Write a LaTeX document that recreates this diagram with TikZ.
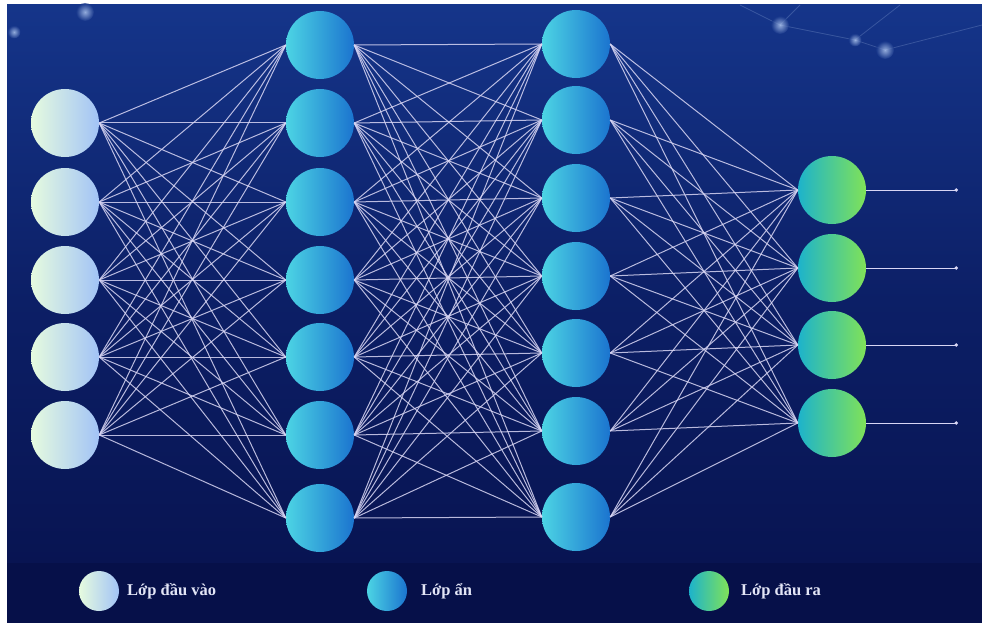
\documentclass[tikz,border=0pt]{standalone}
\usepackage{fontspec}
\setmainfont{Liberation Serif}
\usetikzlibrary{arrows.meta}
\definecolor{bgtop}{HTML}{15358A}
\definecolor{bgmid}{HTML}{0C1F66}
\definecolor{bgbot}{HTML}{081452}
\definecolor{band}{HTML}{061049}
\definecolor{inL}{HTML}{E6FBDF}
\definecolor{inR}{HTML}{A2C3F6}
\definecolor{hidL}{HTML}{4CD4E4}
\definecolor{hidR}{HTML}{1B74CF}
\definecolor{outL}{HTML}{1DB3CB}
\definecolor{outR}{HTML}{80E258}
\definecolor{edge}{HTML}{D8D6F4}
\definecolor{legtext}{HTML}{E2E5F6}
\definecolor{glow}{HTML}{C8DEFF}
\tikzset{
  neuron/.style={circle, minimum size=68pt, inner sep=0pt, draw=none},
  inneuron/.style={neuron, left color=inL, right color=inR},
  hidneuron/.style={neuron, left color=hidL, right color=hidR},
  outneuron/.style={neuron, left color=outL, right color=outR},
  legdot/.style={circle, minimum size=40pt, inner sep=0pt},
  wire/.style={draw=edge, line width=1pt, opacity=0.85},
  outwire/.style={draw=edge, line width=1pt, -{Circle[length=3.5pt]}},
  legtxt/.style={anchor=west, text=legtext, font=\fontsize{16.5}{18}\selectfont\bfseries, inner sep=0pt},
  sparkle/.style={circle, minimum size=18pt, inner sep=0pt, inner color=glow, outer color=bgtop, opacity=0.7}
}
\begin{document}
\begin{tikzpicture}[x=1pt, y=-1pt]
\useasboundingbox (0,0) rectangle (982,623);
\fill[white] (0,0) rectangle (982,623);
% background
\shade[top color=bgtop, bottom color=bgmid] (7,5) rectangle (982,300);
\shade[top color=bgmid, bottom color=bgbot] (7,300) rectangle (982,563);
\fill[band] (7,563) rectangle (982,623);
% decorative sparkles at top
\draw[glow, opacity=0.2, line width=0.8pt] (780,25) -- (855,40) -- (885,50) (740,5) -- (780,25) -- (800,5) (855,40) -- (900,5) (885,50) -- (982,25);
\node[sparkle] (s1) at (85,12) {};
\node[sparkle, minimum size=13pt] (s2) at (14,32) {};
\node[sparkle] (s3) at (780,25) {};
\node[sparkle, minimum size=13pt] (s4) at (855,40) {};
\node[sparkle] (s5) at (885,50) {};
% input layer
\foreach \i/\y in {1/123,2/202,3/280,4/357,5/435}
  \node[inneuron] (a\i) at (65,\y) {};
% hidden layer 1
\foreach \i/\y in {1/45,2/123,3/202,4/280,5/357,6/435,7/518}
  \node[hidneuron] (b\i) at (320,\y) {};
% hidden layer 2
\foreach \i/\y in {1/44,2/120,3/198,4/276,5/353,6/431,7/517}
  \node[hidneuron] (c\i) at (576,\y) {};
% output layer
\foreach \i/\y in {1/190,2/268,3/345,4/423}
  \node[outneuron] (d\i) at (832,\y) {};
% end points of outputs
\foreach \i/\y in {1/190,2/268,3/345,4/423}
  \coordinate (e\i) at (958,\y);
% connections
\foreach \i in {1,...,5}
  \foreach \j in {1,...,7}
    \draw[wire] (a\i.east) -- (b\j.west);
\foreach \i in {1,...,7}
  \foreach \j in {1,...,7}
    \draw[wire] (b\i.east) -- (c\j.west);
\foreach \i in {1,...,7}
  \foreach \j in {1,...,4}
    \draw[wire] (c\i.east) -- (d\j.west);
\foreach \i in {1,...,4}
  \draw[outwire] (d\i.east) -- (e\i);
% legend
\node[legdot, left color=inL, right color=inR] (l1) at (99,591) {};
\node[legtxt] (t1) at (127,591) {Lớp đầu vào};
\node[legdot, left color=hidL, right color=hidR] (l2) at (387,591) {};
\node[legtxt] (t2) at (421,591) {Lớp ẩn};
\node[legdot, left color=outL, right color=outR] (l3) at (709,591) {};
\node[legtxt] (t3) at (741,591) {Lớp đầu ra};
\end{tikzpicture}
\end{document}
